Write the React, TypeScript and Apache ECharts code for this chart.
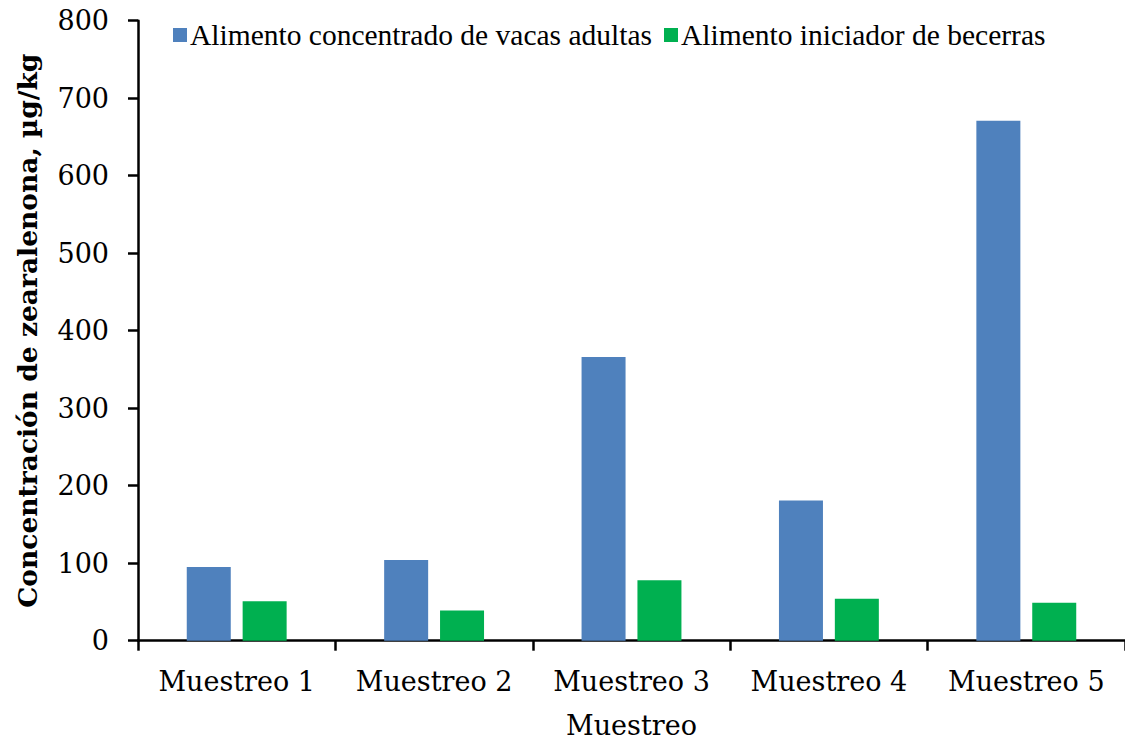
import React, { useEffect, useRef } from "react";
import * as echarts from "echarts";

// Zearalenone concentration per sampling round
const categories = ["Muestreo 1", "Muestreo 2", "Muestreo 3", "Muestreo 4", "Muestreo 5"];
const vacasAdultas = [95, 104, 366, 181, 671];
const becerras = [51, 39, 78, 54, 49];
const seriesNames = ["Alimento concentrado de vacas adultas", "Alimento iniciador de becerras"];
const yTicks = { min: 0, max: 800, interval: 100 };

const AXIS_FONT = "'DejaVu Serif', 'Liberation Serif', serif";
const LEGEND_FONT = "'Liberation Serif', 'Times New Roman', serif";

export default function App() {
  const ref = useRef<HTMLDivElement>(null);

  useEffect(() => {
    if (!ref.current) return;
    const chart = echarts.init(ref.current, undefined, { renderer: "svg" });
    chart.setOption({
      animation: false,
      backgroundColor: "#ffffff",
      textStyle: { fontFamily: AXIS_FONT, color: "#000" },
      legend: {
        left: 168,
        top: 15,
        itemWidth: 14,
        itemHeight: 14,
        itemGap: 12,
        icon: "rect",
        textStyle: { fontFamily: LEGEND_FONT, fontSize: 29.5, color: "#000", padding: [0, 0, 0, -2] },
        data: seriesNames,
      },
      grid: { left: 138, top: 20.7, width: 990, height: 620 },
      xAxis: {
        type: "category",
        data: categories,
        name: "Muestreo",
        nameLocation: "middle",
        nameGap: 71,
        nameTextStyle: { fontFamily: AXIS_FONT, fontSize: 27, color: "#000" },
        axisLine: { lineStyle: { color: "#000", width: 2.5 } },
        axisTick: { show: true, interval: 0, length: 10, lineStyle: { color: "#000", width: 2.5 }, alignWithLabel: false },
        axisLabel: { interval: 0, hideOverlap: false, fontFamily: AXIS_FONT, fontSize: 27, color: "#000", margin: 27 },
      },
      yAxis: {
        type: "value",
        min: yTicks.min,
        max: yTicks.max,
        interval: yTicks.interval,
        name: "Concentración de zearalenona, µg/kg",
        nameLocation: "middle",
        nameGap: 97,
        nameTextStyle: { fontFamily: AXIS_FONT, fontSize: 26.5, fontWeight: "bold", color: "#000" },
        axisLine: { show: true, lineStyle: { color: "#000", width: 2.5 } },
        axisTick: { show: true, length: 10, lineStyle: { color: "#000", width: 2.5 } },
        axisLabel: { fontFamily: AXIS_FONT, fontSize: 27, color: "#000", margin: 29 },
        splitLine: { show: false },
      },
      series: [
        {
          name: seriesNames[0],
          type: "bar",
          data: vacasAdultas,
          barWidth: 44,
          barGap: "27%",
          itemStyle: { color: "#4F81BD" },
        },
        {
          name: seriesNames[1],
          type: "bar",
          data: becerras,
          barWidth: 44,
          barGap: "27%",
          itemStyle: { color: "#00B050" },
        },
      ],
    });
    return () => chart.dispose();
  }, []);

  return (
    <div
      ref={ref}
      style={{ position: "absolute", left: 0, top: 0, width: 1125, height: 744 }}
    />
  );
}
